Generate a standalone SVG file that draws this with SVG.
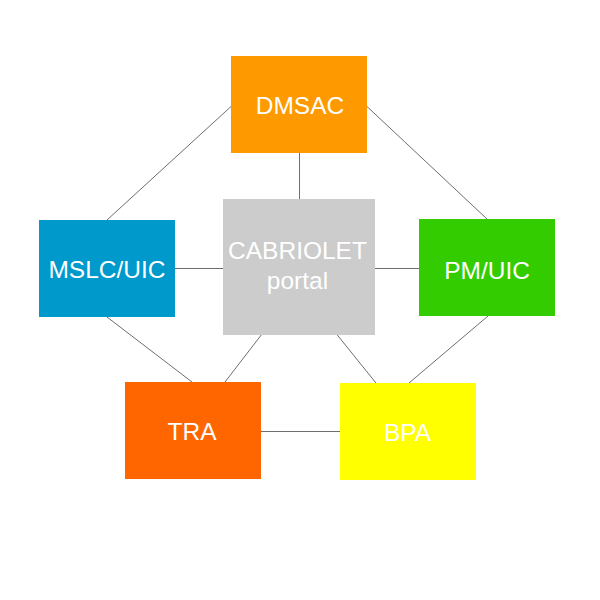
<svg xmlns="http://www.w3.org/2000/svg" width="600" height="600" viewBox="0 0 600 600">
<style>
.conn line{stroke:#6e6e6e;stroke-width:1;fill:none}
.lbl{font-family:"Liberation Sans",Arial,sans-serif;font-size:24.5px;fill:#ffffff;text-anchor:middle}
</style>
<rect width="600" height="600" fill="#ffffff"/>
<g class="conn" id="connectors">
<line x1="231" y1="106.5" x2="107" y2="220"/>
<line x1="367" y1="106.5" x2="487" y2="219"/>
<line x1="299.5" y1="153" x2="299.5" y2="199"/>
<line x1="175" y1="268.5" x2="223" y2="268.5"/>
<line x1="375" y1="268.5" x2="419" y2="268.5"/>
<line x1="107" y1="317" x2="192" y2="382"/>
<line x1="262" y1="334" x2="225" y2="382"/>
<line x1="336.5" y1="334" x2="376" y2="383"/>
<line x1="488" y1="316" x2="409" y2="383"/>
<line x1="261" y1="431.5" x2="340" y2="431.5"/>
</g>
<g id="dmsac"><rect x="231" y="56" width="136" height="97" fill="#ff9900"/><text class="lbl" x="300" y="114">DMSAC</text></g>
<g id="mslc"><rect x="39" y="220" width="136" height="97" fill="#0099cc"/><text class="lbl" x="107" y="278">MSLC/UIC</text></g>
<g id="cabriolet"><rect x="223" y="199" width="152" height="136" fill="#cccccc"/><text class="lbl" x="297.5" y="258.5">CABRIOLET</text><text class="lbl" x="297.5" y="289">portal</text></g>
<g id="pmuic"><rect x="419" y="219" width="136" height="97" fill="#33cc00"/><text class="lbl" x="487" y="279">PM/UIC</text></g>
<g id="tra"><rect x="125" y="382" width="136" height="97" fill="#ff6600"/><text class="lbl" x="192" y="440">TRA</text></g>
<g id="bpa"><rect x="340" y="383" width="136" height="97" fill="#ffff00"/><text class="lbl" x="407.5" y="441">BPA</text></g>
</svg>
